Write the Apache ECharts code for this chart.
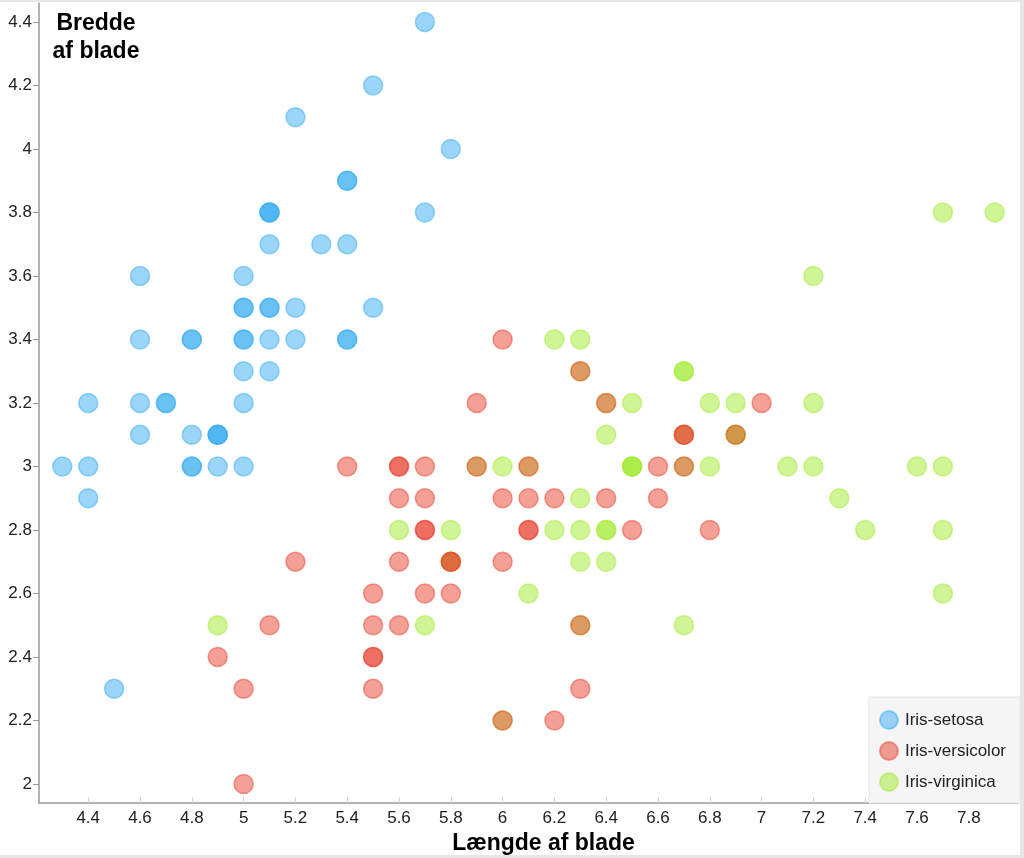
<!DOCTYPE html>
<html>
<head>
<meta charset="utf-8">
<script src="https://cdn.jsdelivr.net/npm/echarts@6/dist/echarts.min.js"></script>
<style>
  html, body { margin: 0; padding: 0; background: #e6e6e6; }
  #chart { position: absolute; left: 0; top: 2px; width: 1020px; height: 853px; background: #fff; }
</style>
</head>
<body>
<div id="chart"></div>
<script>
// [længde, bredde]
const setosa = [
  [5.1,3.5],[4.9,3.0],[4.7,3.2],[4.6,3.1],[5.0,3.6],[5.4,3.9],[4.6,3.4],[5.0,3.4],[4.4,2.9],[4.9,3.1],
  [5.4,3.7],[4.8,3.4],[4.8,3.0],[4.3,3.0],[5.8,4.0],[5.7,4.4],[5.4,3.9],[5.1,3.5],[5.7,3.8],[5.1,3.8],
  [5.4,3.4],[5.1,3.7],[4.6,3.6],[5.1,3.3],[4.8,3.4],[5.0,3.0],[5.0,3.4],[5.2,3.5],[5.2,3.4],[4.7,3.2],
  [4.8,3.1],[5.4,3.4],[5.2,4.1],[5.5,4.2],[4.9,3.1],[5.0,3.2],[5.5,3.5],[4.9,3.1],[4.4,3.0],[5.1,3.4],
  [5.0,3.5],[4.5,2.3],[4.4,3.2],[5.0,3.5],[5.1,3.8],[4.8,3.0],[5.1,3.8],[4.6,3.2],[5.3,3.7],[5.0,3.3]
];
const versicolor = [
  [7.0,3.2],[6.4,3.2],[6.9,3.1],[5.5,2.3],[6.5,2.8],[5.7,2.8],[6.3,3.3],[4.9,2.4],[6.6,2.9],[5.2,2.7],
  [5.0,2.0],[5.9,3.0],[6.0,2.2],[6.1,2.9],[5.6,2.9],[6.7,3.1],[5.6,3.0],[5.8,2.7],[6.2,2.2],[5.6,2.5],
  [5.9,3.2],[6.1,2.8],[6.3,2.5],[6.1,2.8],[6.4,2.9],[6.6,3.0],[6.8,2.8],[6.7,3.0],[6.0,2.9],[5.7,2.6],
  [5.5,2.4],[5.5,2.4],[5.8,2.7],[6.0,2.7],[5.4,3.0],[6.0,3.4],[6.7,3.1],[6.3,2.3],[5.6,3.0],[5.5,2.5],
  [5.5,2.6],[6.1,3.0],[5.8,2.6],[5.0,2.3],[5.6,2.7],[5.7,3.0],[5.7,2.9],[6.2,2.9],[5.1,2.5],[5.7,2.8]
];
const virginica = [
  [6.3,3.3],[5.8,2.7],[7.1,3.0],[6.3,2.9],[6.5,3.0],[7.6,3.0],[4.9,2.5],[7.3,2.9],[6.7,2.5],[7.2,3.6],
  [6.5,3.2],[6.4,2.7],[6.8,3.0],[5.7,2.5],[5.8,2.8],[6.4,3.2],[6.5,3.0],[7.7,3.8],[7.7,2.6],[6.0,2.2],
  [6.9,3.2],[5.6,2.8],[7.7,2.8],[6.3,2.7],[6.7,3.3],[7.2,3.2],[6.2,2.8],[6.1,3.0],[6.4,2.8],[7.2,3.0],
  [7.4,2.8],[7.9,3.8],[6.4,2.8],[6.3,2.8],[6.1,2.6],[7.7,3.0],[6.3,3.4],[6.4,3.1],[6.0,3.0],[6.9,3.1],
  [6.7,3.1],[6.9,3.1],[5.8,2.7],[6.8,3.2],[6.7,3.3],[6.7,3.0],[6.3,2.5],[6.5,3.0],[6.2,3.4],[5.9,3.0]
];
const xTicks = [4.4,4.6,4.8,5,5.2,5.4,5.6,5.8,6,6.2,6.4,6.6,6.8,7,7.2,7.4,7.6,7.8];
const yTicks = [2,2.2,2.4,2.6,2.8,3,3.2,3.4,3.6,3.8,4,4.2,4.4];

const font = 'Helvetica, Arial, "Liberation Sans", sans-serif';

function serie(name, data, color, z) {
  return {
    name: name,
    type: 'scatter',
    data: data,
    z: z,
    symbolSize: 19,
    itemStyle: { color: color, borderColor: color, borderWidth: 1.5, opacity: 0.5 },
    emphasis: { disabled: true }
  };
}

const chart = echarts.init(document.getElementById('chart'));
chart.setOption({
  animation: false,
  textStyle: { fontFamily: font },
  title: {
    text: 'Bredde\naf blade',
    left: 91, top: 3,
    textAlign: 'center',
    textStyle: { fontSize: 23, fontWeight: 'bold', color: '#000', lineHeight: 28, fontFamily: font }
  },
  grid: { left: 39, right: 2, top: 1, bottom: 52, containLabel: false, outerBoundsMode: 'none' },
  legend: {
    orient: 'vertical',
    right: 0, bottom: 52,
    padding: [13, 14, 11, 10],
    itemGap: 11,
    itemWidth: 18, itemHeight: 18,
    icon: 'circle',
    backgroundColor: '#f5f5f5',
    borderColor: '#e6e6e6', borderWidth: 1,
    textStyle: { fontSize: 17, color: '#222', fontFamily: font, padding: [0, 0, 0, 2] },
    data: ['Iris-setosa', 'Iris-versicolor', 'Iris-virginica']
  },
  xAxis: {
    type: 'value',
    min: 4.21, max: 7.99,
    name: 'Længde af blade',
    nameLocation: 'middle',
    nameGap: 27,
    nameTextStyle: { fontSize: 23, fontWeight: 'bold', color: '#000', padding: [0, 0, 0, 30] },
    splitLine: { show: false },
    axisLine: { lineStyle: { color: '#999', width: 1.5 } },
    axisTick: { show: true, inside: true, length: 6, customValues: xTicks, lineStyle: { color: '#d5d5d5' } },
    axisLabel: { customValues: xTicks, fontSize: 17, color: '#222', margin: 7 }
  },
  yAxis: {
    type: 'value',
    min: 1.94, max: 4.46,
    splitLine: { show: false },
    axisLine: { show: true, lineStyle: { color: '#999', width: 1.5 } },
    axisTick: { show: true, length: 6, customValues: yTicks, lineStyle: { color: '#999' } },
    axisLabel: { customValues: yTicks, fontSize: 17, color: '#222', margin: 7 }
  },
  series: [
    serie('Iris-setosa', setosa, '#37adf1', 2),
    serie('Iris-versicolor', versicolor, '#e9412f', 4),
    serie('Iris-virginica', virginica, '#a1eb2f', 3)
  ]
});
</script>
</body>
</html>
